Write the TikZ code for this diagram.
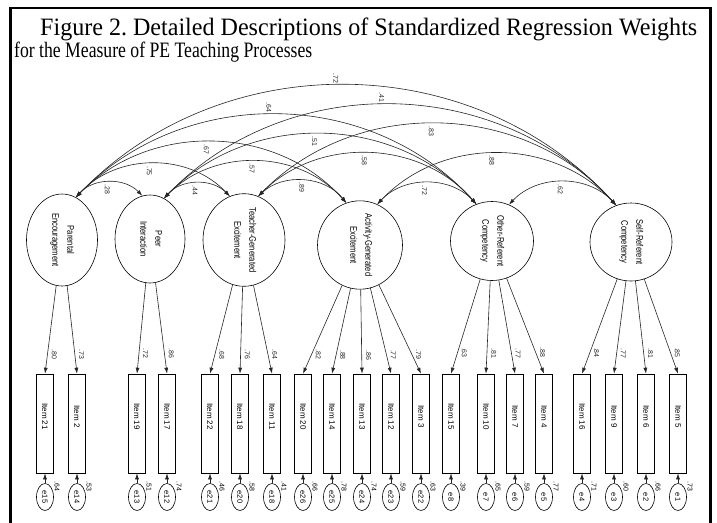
\documentclass[tikz,border=0pt]{standalone}
\usepackage{graphicx}
\usepackage{fontspec}
\setmainfont{Liberation Serif}
\newfontfamily\amosfont{Liberation Sans}
\usetikzlibrary{arrows.meta,shapes.geometric,positioning}
\frenchspacing

%% text that runs downwards
\newcommand{\vtxt}[1]{\rotatebox{-90}{#1}}
\newcommand{\factxt}[2]{\rotatebox{-90}{\scalebox{0.8}[1]{%
  \begin{tabular}{@{}c@{}}#1\\[4pt]#2\end{tabular}}}}

\begin{document}
\begin{tikzpicture}[%%
  x=1pt,y=-1pt,
  lineStyle/.style={line width=0.6pt,black!85},
  arrowStyle/.style={lineStyle,-{Latex[length=6pt,width=4pt]}},
  covStyle/.style={lineStyle,{Latex[length=6pt,width=4pt]}-{Latex[length=6pt,width=4pt]}},
  factorStyle/.style={draw,ellipse,inner sep=0pt,line width=0.6pt,
    font=\amosfont\fontsize{9.5}{11}\selectfont},
  itemStyle/.style={draw,rectangle,minimum width=17pt,minimum height=99pt,
    inner sep=0pt,line width=0.6pt,font=\amosfont\fontsize{8}{9}\selectfont},
  errStyle/.style={draw,ellipse,minimum width=17pt,minimum height=27pt,
    inner sep=0pt,line width=0.6pt,font=\amosfont\fontsize{7.5}{8}\selectfont},
  numStyle/.style={inner sep=1pt,font=\amosfont\fontsize{7}{8}\selectfont},
  titleStyle/.style={inner sep=0pt,anchor=base west},
  frameStyle/.style={line width=2.3pt}
]
\useasboundingbox (0,0) rectangle (717,522);
%%
%% The frame and the caption.
%%
\draw[frameStyle] (10.5,530) -- (10.5,8) -- (710.5,8) -- (710.5,530);
\node[titleStyle,font=\fontsize{25}{29}\selectfont] (titleA) at (40,35)
  {\resizebox{657pt}{\height}{Figure 2. Detailed Descriptions of Standardized Regression Weights}};
\node[titleStyle,font=\fontsize{22}{26}\selectfont] (titleB) at (14,57)
  {\resizebox{298pt}{\height}{for the Measure of PE Teaching Processes}};
%%
%% The six factors.
%%
\node[factorStyle,minimum width=71pt,minimum height=92pt] (parEnc) at (62,240)
  {\factxt{Parental}{Encouragement}};
\node[factorStyle,minimum width=70pt,minimum height=88pt] (peerInt) at (150,239)
  {\factxt{Peer}{Interaction}};
\node[factorStyle,minimum width=82pt,minimum height=86pt] (teaExc) at (244,240)
  {\factxt{Teacher-Generated}{Excitement}};
\node[factorStyle,minimum width=85pt,minimum height=84pt] (actExc) at (360,245)
  {\factxt{Activity-Generated}{Excitement}};
\node[factorStyle,minimum width=83pt,minimum height=79pt] (othComp) at (492,241)
  {\factxt{Other-Referent}{Competency}};
\node[factorStyle,minimum width=82pt,minimum height=78pt] (selfComp) at (631,242)
  {\factxt{Self-Referent}{Competency}};
%%
%% Correlations between the factors.
%%
\foreach \src/\dst/\val/\side in {%
  parEnc.72/peerInt.100/.28/below, peerInt.71/teaExc.108/.44/below,
  teaExc.72/actExc.108/.89/below, actExc.67/othComp.113/.72/below,
  othComp.65/selfComp.112/.62/below,
  parEnc.72/teaExc.108/.75/below, peerInt.71/actExc.108/.57/below,
  teaExc.72/othComp.113/.58/below, actExc.67/selfComp.112/.88/below,
  parEnc.72/actExc.108/.67/below, peerInt.71/othComp.113/.51/below,
  teaExc.72/selfComp.112/.83/below,
  parEnc.72/othComp.113/.64/above, peerInt.71/selfComp.112/.41/above,
  parEnc.72/selfComp.112/.72/above}
  \draw[covStyle] (\src) to[bend left=47]
    node[numStyle,pos=.48,\side=1pt] {\vtxt{\val}} (\dst);
%%
%% Items, their errors and the loadings.
%%
\foreach \itm/\xpos/\fac/\load/\err/\evar in {%
  21/45/parEnc/.80/15/.64, 2/77/parEnc/.73/14/.53,
  19/137/peerInt/.72/13/.51, 17/167/peerInt/.86/12/.74,
  22/210/teaExc/.68/21/.46, 18/240/teaExc/.76/20/.58, 11/272/teaExc/.64/18/.41,
  20/303/actExc/.82/26/.66, 14/332/actExc/.88/25/.78, 13/362/actExc/.86/24/.74,
  12/391/actExc/.77/23/.59, 3/421/actExc/.79/22/.63,
  15/451/othComp/.63/8/.39, 10/486/othComp/.81/7/.65,
  7/515/othComp/.77/6/.59, 4/544/othComp/.88/5/.77,
  16/582/selfComp/.84/4/.71, 9/614/selfComp/.77/3/.60,
  6/646/selfComp/.81/2/.66, 5/678/selfComp/.85/1/.73}
{
  \node[itemStyle] (item\itm) at (\xpos,423.5) {\vtxt{Item \itm\hspace{14pt}}};
  \node[errStyle] (e\err) at (\xpos,497) {\vtxt{e\err}};
  \draw[arrowStyle] (\fac) -- (item\itm.north)
    node[numStyle,pos=.78,right=3pt] {\vtxt{\load}};
  \draw[arrowStyle] (e\err) -- (item\itm.south);
  \node[numStyle] (var\err) at ([xshift=12pt,yshift=-3pt]e\err.north) {\vtxt{\evar}};
}
\end{tikzpicture}
\end{document}
